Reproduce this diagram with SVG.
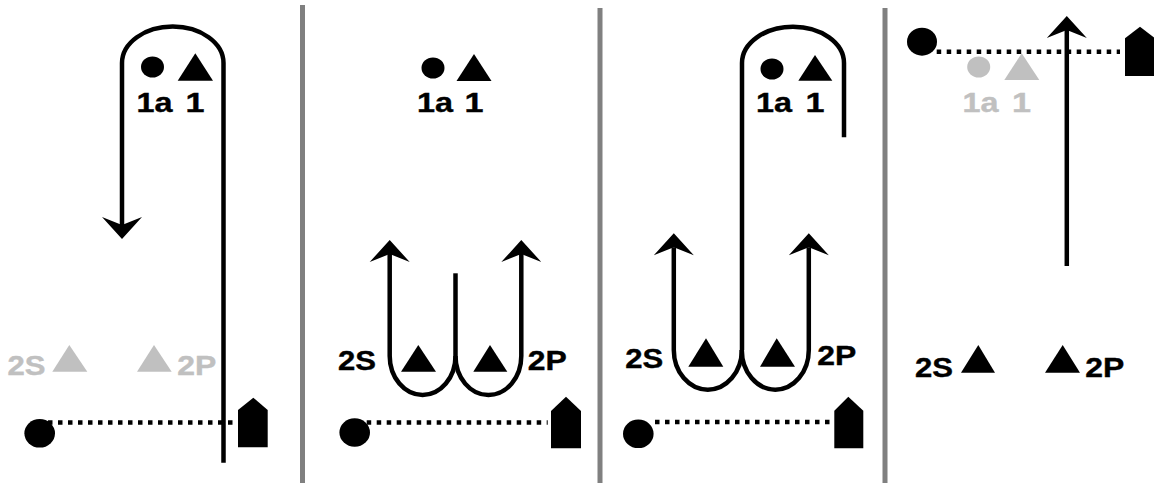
<svg xmlns="http://www.w3.org/2000/svg" width="1154" height="483" viewBox="0 0 1154 483">
<style>
.bg{fill:#ffffff}
.div{stroke:#808080;stroke-width:5;fill:none}
.ln{stroke:#000;stroke-width:4.5;fill:none}
.arr{stroke:#000;stroke-width:4.5;fill:none;marker-end:url(#ah)}
.dot{stroke:#000;stroke-width:4.5;stroke-dasharray:4.5 5.5;fill:none}
.blk{fill:#000}
.gry{fill:#c0c0c0}
.lbl{font-family:"Liberation Sans",Arial,sans-serif;font-weight:bold;font-size:28px;text-anchor:middle;stroke:#000;stroke-width:0.4}
.lbl.gry{stroke:#c0c0c0}
</style>
<defs>
<marker id="ah" markerUnits="userSpaceOnUse" orient="auto" refX="0" refY="0" markerWidth="30" markerHeight="44" overflow="visible">
<path d="M14,0 L-8,-20 L0,0 L-8,20 Z" fill="#000"/>
</marker>
</defs>
<rect class="bg" x="0" y="0" width="1154" height="483"/>
<g id="dividers">
<line class="div" x1="302.5" y1="5" x2="302.5" y2="483"/>
<line class="div" x1="600" y1="8" x2="600" y2="483"/>
<line class="div" x1="885" y1="8" x2="885" y2="483"/>
</g>
<g id="connectors">
<path class="arr" d="M223.5 462.7 L223.5 63 A50.75 36.5 0 0 0 122 63 L122 225"/>
<path class="dot" d="M48 422.5 L233 422.5"/>
<path class="ln" d="M455.5 273.3 L455.5 356"/>
<path class="arr" d="M455.5 356 A32.9 39 0 0 1 389.7 356 L389.7 254"/>
<path class="arr" d="M455.5 356 A32.9 39 0 0 0 521.3 356 L521.3 254"/>
<path class="dot" d="M366.7 422.5 L547.7 422.5"/>
<path class="ln" d="M844 137.3 L844 63 A51 36.3 0 0 0 742 63 L742 350"/>
<path class="arr" d="M741.8 350 A34 39.7 0 0 1 673.8 350 L673.8 247.3"/>
<path class="arr" d="M741.8 350 A33.5 39.7 0 0 0 808.8 350 L808.8 247.3"/>
<path class="dot" d="M655 422 L830 422"/>
<path class="dot" d="M936.7 51.7 L1120 51.7"/>
<path class="arr" d="M1066.8 266 L1066.8 30"/>
</g>
<g id="panel1">
<g id="p1-1a"><ellipse class="blk" cx="152.5" cy="67" rx="11.5" ry="10.5"/><text class="lbl" x="154.5" y="112" textLength="36" lengthAdjust="spacingAndGlyphs">1a</text></g>
<g id="p1-1"><polygon class="blk" points="195.3,53.3 213,80.7 177.7,80.7"/><text class="lbl" x="195" y="112" textLength="19" lengthAdjust="spacingAndGlyphs">1</text></g>
<g id="p1-2S"><polygon class="gry" points="69.3,345 87.3,371.7 52.3,371.7"/><text class="lbl gry" x="26.5" y="375" textLength="38" lengthAdjust="spacingAndGlyphs">2S</text></g>
<g id="p1-2P"><polygon class="gry" points="154,345 171.7,371.7 137,371.7"/><text class="lbl gry" x="196.7" y="375" textLength="39" lengthAdjust="spacingAndGlyphs">2P</text></g>
<g id="p1-buoy"><ellipse class="blk" cx="39.7" cy="433.3" rx="15.3" ry="14.3"/></g>
<g id="p1-boat"><polygon class="blk" points="238,410 253.3,397.7 267.7,410 267.7,447.3 238,447.3"/></g>
</g>
<g id="panel2">
<g id="p2-1a"><ellipse class="blk" cx="433" cy="68" rx="11.5" ry="10.5"/><text class="lbl" x="435" y="112" textLength="36" lengthAdjust="spacingAndGlyphs">1a</text></g>
<g id="p2-1"><polygon class="blk" points="474,54 491.5,81 456.5,81"/><text class="lbl" x="474" y="112" textLength="19" lengthAdjust="spacingAndGlyphs">1</text></g>
<g id="p2-2S"><polygon class="blk" points="418.3,345 436,371.7 401,371.7"/><text class="lbl" x="357" y="369.5" textLength="38" lengthAdjust="spacingAndGlyphs">2S</text></g>
<g id="p2-2P"><polygon class="blk" points="490,345 507.3,371.7 473.3,371.7"/><text class="lbl" x="547.2" y="369.5" textLength="39" lengthAdjust="spacingAndGlyphs">2P</text></g>
<g id="p2-buoy"><ellipse class="blk" cx="354.7" cy="432.5" rx="15.3" ry="14.3"/></g>
<g id="p2-boat"><polygon class="blk" points="551,411 566,396.7 581,411 581,448.3 551,448.3"/></g>
</g>
<g id="panel3">
<g id="p3-1a"><ellipse class="blk" cx="772" cy="69" rx="11.5" ry="10.5"/><text class="lbl" x="774" y="112" textLength="36" lengthAdjust="spacingAndGlyphs">1a</text></g>
<g id="p3-1"><polygon class="blk" points="815,55 832.3,80.7 798.3,80.7"/><text class="lbl" x="815" y="112" textLength="19" lengthAdjust="spacingAndGlyphs">1</text></g>
<g id="p3-2S"><polygon class="blk" points="706,338.3 723.3,366.7 688.3,366.7"/><text class="lbl" x="644.2" y="368" textLength="38" lengthAdjust="spacingAndGlyphs">2S</text></g>
<g id="p3-2P"><polygon class="blk" points="776.7,338.3 795,366.7 760,366.7"/><text class="lbl" x="836.7" y="365" textLength="39" lengthAdjust="spacingAndGlyphs">2P</text></g>
<g id="p3-buoy"><ellipse class="blk" cx="638.3" cy="433.8" rx="15.3" ry="14.3"/></g>
<g id="p3-boat"><polygon class="blk" points="834.3,410.7 848.3,396.7 863.3,410.7 863.3,448.3 834.3,448.3"/></g>
</g>
<g id="panel4">
<g id="p4-1a"><ellipse class="gry" cx="978.7" cy="67" rx="11.5" ry="10.5"/><text class="lbl gry" x="980.5" y="112" textLength="36" lengthAdjust="spacingAndGlyphs">1a</text></g>
<g id="p4-1"><polygon class="gry" points="1021.7,53.3 1039.3,80 1004.3,80"/><text class="lbl gry" x="1021.5" y="112" textLength="19" lengthAdjust="spacingAndGlyphs">1</text></g>
<g id="p4-2S"><polygon class="blk" points="978.3,345 995,372.7 961,372.7"/><text class="lbl" x="934" y="376.7" textLength="38" lengthAdjust="spacingAndGlyphs">2S</text></g>
<g id="p4-2P"><polygon class="blk" points="1062.7,345 1080,372.7 1045,372.7"/><text class="lbl" x="1104.7" y="376.7" textLength="39" lengthAdjust="spacingAndGlyphs">2P</text></g>
<g id="p4-buoy"><ellipse class="blk" cx="922" cy="41.7" rx="15" ry="14"/></g>
<g id="p4-boat"><polygon class="blk" points="1125,38.3 1140,26.7 1155,38.3 1155,76 1125,76"/></g>
</g>
</svg>
